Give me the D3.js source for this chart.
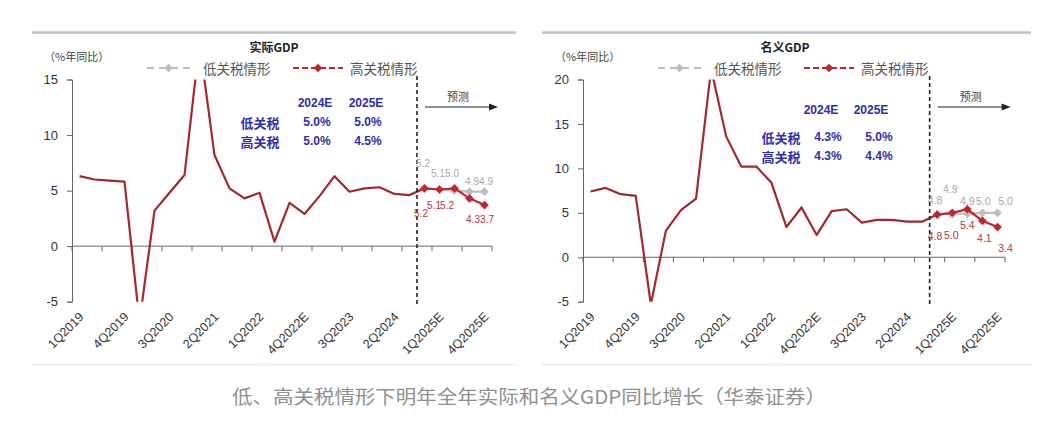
<!DOCTYPE html>
<html><head><meta charset="utf-8">
<script src="https://cdn.jsdelivr.net/npm/d3@7"></script>
<style>
html,body{margin:0;padding:0;background:#fff;}
svg{display:block;}
</style></head>
<body>
<svg id="c" width="1052" height="442"></svg>
<script>
// ---------- DATA ----------
const quarters = [
  "1Q2019","2Q2019","3Q2019","4Q2019",
  "1Q2020","2Q2020","3Q2020","4Q2020",
  "1Q2021","2Q2021","3Q2021","4Q2021",
  "1Q2022","2Q2022","3Q2022","4Q2022E",
  "1Q2023","2Q2023","3Q2023","4Q2023",
  "1Q2024","2Q2024","3Q2024","4Q2024E",
  "1Q2025E","2Q2025E","3Q2025E","4Q2025E"
];
const forecastQuarters = ["4Q2024E","1Q2025E","2Q2025E","3Q2025E","4Q2025E"];

const realHist = [6.3,6.0,5.9,5.8,-6.8,3.2,4.8,6.4,18.3,8.2,5.2,4.3,4.8,0.4,3.9,2.9,4.5,6.3,4.9,5.2,5.3,4.7,4.6,5.2];
const realLow  = [5.2,5.1,5.0,4.9,4.9];
const realHigh = [5.2,5.1,5.2,4.3,3.7];

const nomHist = [7.4,7.8,7.1,6.9,-5.3,3.0,5.3,6.6,21.2,13.6,10.2,10.2,8.4,3.4,5.6,2.5,5.2,5.4,3.9,4.2,4.2,4.0,4.0,4.8];
const nomLow  = [4.8,4.9,4.9,5.0,5.0];
const nomHigh = [4.8,5.0,5.4,4.1,3.4];

const realTicks = [-5,0,5,10,15];
const nomTicks  = [-5,0,5,10,15,20];

const tableYears = ["2024E","2025E"];
const tableRows  = ["低关税","高关税"];
const realTable  = [["5.0%","5.0%"],["5.0%","4.5%"]];
const nomTable   = [["4.3%","5.0%"],["4.3%","4.4%"]];

const legendNames = ["低关税情形","高关税情形"];
const unitLabel = "（%年同比）";
const forecastLabel = "预测";
const caption = "低、高关税情形下明年全年实际和名义GDP同比增长（华泰证券）";

// ---------- LAYOUT ----------
const svg = d3.select("#c");
const C_HIST = "#a3282b", C_HIGH = "#c0262c", C_LOW = "#bdbdbd";
const C_BLUE = "#2e2eb4";
const FONT = "Arial, 'Liberation Sans', sans-serif";
const CJK = "'Noto Sans CJK SC', sans-serif";

const charts = [
  {title:"实际GDP", hist:realHist, low:realLow, high:realHigh, ticks:realTicks, domain:[-5,15],
   table:realTable, x0:72, x1:492, sepX:[32,516], lblSize:10,
   tbl:{hdrY:103, rowY:[122,141], hx:[243,294], rx:188, vx:[245,296]},
   lowOff:[[-1.5,-25],[-1.5,-16],[-2.5,-17.5],[2.5,-10],[1.5,-10]],
   highOff:[[-3.5,25],[-5.5,16],[-7.5,17],[3.5,21],[2.5,14]]},
  {title:"名义GDP", hist:nomHist, low:nomLow, high:nomHigh, ticks:nomTicks, domain:[-5,20],
   table:nomTable, x0:583, x1:1005, sepX:[542,1031], lblSize:10.5,
   tbl:{hdrY:110, rowY:[137,156], hx:[238,288], rx:198, vx:[245,296]},
   lowOff:[[-2,-15],[-2,-25],[0,-13],[1,-12],[8,-12]],
   highOff:[[-2,21],[-1,22],[0,16],[2,17],[8,21]]}
];
const yTop = 79.5, yBot = 301.7;

charts.forEach((c, ci) => {
  const g = svg.append("g");
  const x = d3.scaleBand().domain(quarters).range([c.x0, c.x1]).padding(0);
  const y = d3.scaleLinear().domain(c.domain).range([yBot, yTop]);
  const cx = q => x(q) + x.bandwidth()/2;

  // separators
  g.append("line").attr("x1",c.sepX[0]).attr("x2",c.sepX[1]).attr("y1",32.5).attr("y2",32.5)
    .attr("stroke","#b9c3cc").attr("stroke-width",2.5);
  g.append("line").attr("x1",c.sepX[0]).attr("x2",c.sepX[1]).attr("y1",364.5).attr("y2",364.5)
    .attr("stroke","#e1e7ee").attr("stroke-width",1);

  // title & unit
  g.append("text").attr("x", c.x0 + 202).attr("y", 46).attr("text-anchor","middle")
    .attr("dominant-baseline","central").attr("font-family",CJK).attr("font-weight","bold")
    .attr("font-size",12).attr("fill","#222").text(c.title);
  g.append("text").attr("x", c.x0 - 28).attr("y", 56)
    .attr("dominant-baseline","central").attr("font-family",CJK)
    .attr("font-size",11).attr("fill","#444").text(unitLabel);

  // y axis
  const yAxis = d3.axisLeft(y).tickValues(c.ticks).tickSize(5).tickPadding(9).tickFormat(d => String(d));
  const ya = g.append("g").attr("transform",`translate(${c.x0},0)`).call(yAxis);
  ya.select(".domain").attr("stroke","#666");
  ya.selectAll(".tick line").attr("stroke","#666");
  ya.selectAll(".tick text").attr("font-family",FONT).attr("font-size",13).attr("fill","#333");

  // x axis at zero
  const y0 = y(0);
  g.append("line").attr("x1",c.x0).attr("x2",c.x1).attr("y1",y0).attr("y2",y0)
    .attr("stroke","#666").attr("stroke-width",1);
  const edges = d3.range(0, quarters.length + 1, 2);
  g.selectAll(".xt").data(edges).enter().append("line")
    .attr("x1", i => c.x0 + i * x.bandwidth()).attr("x2", i => c.x0 + i * x.bandwidth())
    .attr("y1", y0).attr("y2", y0 + 5).attr("stroke","#666");
  const labelQ = quarters.filter((q,i) => i % 3 === 0);
  g.selectAll(".xl").data(labelQ).enter().append("text")
    .attr("transform", q => `translate(${cx(q)+5},${yBot+16}) rotate(-45)`)
    .attr("text-anchor","end").attr("font-family",FONT).attr("font-size",12.5)
    .attr("fill","#333").text(q => q);

  // clip
  const clipId = "clip" + ci;
  g.append("clipPath").attr("id",clipId).append("rect")
    .attr("x", c.x0).attr("y", yTop).attr("width", c.x1 - c.x0 + 20).attr("height", yBot - yTop);

  const line = d3.line().x(d => cx(d.q)).y(d => y(d.v));
  const histData = c.hist.map((v,i) => ({q:quarters[i], v}));
  g.append("path").attr("clip-path",`url(#${clipId})`).attr("d", line(histData))
    .attr("fill","none").attr("stroke",C_HIST).attr("stroke-width",2.2).attr("stroke-linejoin","round");

  // forecast divider
  const divX = x(forecastQuarters[0]);
  g.append("line").attr("x1",divX).attr("x2",divX).attr("y1",76).attr("y2",304)
    .attr("stroke","#222").attr("stroke-width",1.6).attr("stroke-dasharray","4,3");
  g.append("text").attr("x",divX+41).attr("y",96).attr("text-anchor","middle")
    .attr("dominant-baseline","central").attr("font-family",CJK).attr("font-size",11)
    .attr("fill","#444").text(forecastLabel);
  g.append("line").attr("x1",divX+8).attr("x2",divX+74).attr("y1",107).attr("y2",107)
    .attr("stroke","#222").attr("stroke-width",1.2);
  g.append("path").attr("d",`M${divX+81},107 L${divX+72},103.5 L${divX+72},110.5 Z`).attr("fill","#222");

  // forecast series
  const diamond = d3.symbol().type(d3.symbolSquare).size(38);
  [[c.low, C_LOW, c.lowOff, "#a8a8a8"], [c.high, C_HIGH, c.highOff, "#b0383c"]].forEach(([vals, col, off, tcol]) => {
    const d = vals.map((v,i) => ({q:forecastQuarters[i], v}));
    g.append("path").attr("d", line(d)).attr("fill","none").attr("stroke",col).attr("stroke-width",2.2);
    g.selectAll(null).data(d).enter().append("path")
      .attr("d", diamond).attr("fill",col)
      .attr("transform", p => `translate(${cx(p.q)},${y(p.v)}) rotate(45)`);
    g.selectAll(null).data(d).enter().append("text")
      .attr("x", (p,i) => cx(p.q) + off[i][0]).attr("y", (p,i) => y(p.v) + off[i][1])
      .attr("text-anchor","middle").attr("dominant-baseline","central")
      .attr("font-family",FONT).attr("font-size",c.lblSize).attr("fill",tcol)
      .text(p => p.v.toFixed(1));
  });

  // legend
  const legY = 68;
  [[C_LOW, 75, 43, 131], [C_HIGH, 221, 50, 278]].forEach(([col, lx, lw, tx], k) => {
    g.append("line").attr("x1",c.x0+lx).attr("x2",c.x0+lx+lw).attr("y1",legY).attr("y2",legY)
      .attr("stroke",col).attr("stroke-width",2.2).attr("stroke-dasharray", k===0 ? "7,5" : "6,3");
    g.append("path").attr("d", diamond).attr("fill",col)
      .attr("transform",`translate(${c.x0+lx+lw/2},${legY}) rotate(45)`);
    g.append("text").attr("x",c.x0+tx).attr("y",legY).attr("dominant-baseline","central")
      .attr("font-family",CJK).attr("font-size",13.5).attr("fill","#555").text(legendNames[k]);
  });

  // table
  tableYears.forEach((t,j) => {
    g.append("text").attr("x",c.x0+c.tbl.hx[j]).attr("y",c.tbl.hdrY).attr("text-anchor","middle")
      .attr("dominant-baseline","central").attr("font-family",FONT).attr("font-weight","bold")
      .attr("font-size",12).attr("fill",C_BLUE).text(t);
  });
  tableRows.forEach((r,i) => {
    g.append("text").attr("x",c.x0+c.tbl.rx).attr("y",c.tbl.rowY[i]).attr("text-anchor","middle")
      .attr("dominant-baseline","central").attr("font-family",CJK).attr("font-weight","bold")
      .attr("font-size",13).attr("fill",C_BLUE).text(r);
    c.table[i].forEach((v,j) => {
      g.append("text").attr("x",c.x0+c.tbl.vx[j]).attr("y",c.tbl.rowY[i]).attr("text-anchor","middle")
        .attr("dominant-baseline","central").attr("font-family",FONT).attr("font-weight","bold")
        .attr("font-size",12).attr("fill",C_BLUE).text(v);
    });
  });
});

// caption
svg.append("text").attr("x",232).attr("y",395).attr("dominant-baseline","central")
  .attr("font-family",CJK).attr("font-size",19).attr("fill","#8f8f8f")
  .attr("textLength",594).attr("lengthAdjust","spacingAndGlyphs").text(caption);
</script>
</body></html>
